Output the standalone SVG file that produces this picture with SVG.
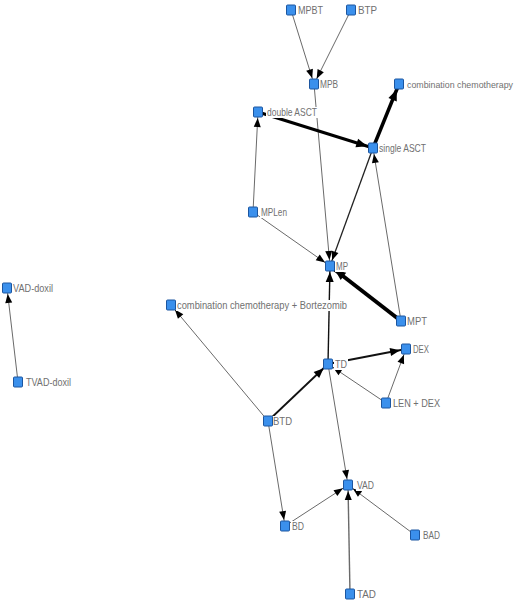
<svg xmlns="http://www.w3.org/2000/svg" width="520" height="604" viewBox="0 0 520 604">
<style>
.n rect{fill:#3b90ec;stroke:#1c56a0;stroke-width:1}
.n rect.bg{fill:#fff;stroke:none}
.n text{font-family:"Liberation Sans",Arial,sans-serif;font-size:10.5px;fill:#707070}
.e line{stroke:#6a6a6a;stroke-width:1;fill:none;marker-end:url(#a)}
.e line.m{stroke:#111;stroke-width:1.8;marker-end:url(#b)}
.e line.k{stroke:#000;stroke-width:3.5;marker-end:url(#c)}
</style>
<defs>
<marker id="a" markerUnits="userSpaceOnUse" markerWidth="10" markerHeight="8" refX="15" refY="3.5" orient="auto" overflow="visible"><path d="M0,0 L9,3.5 L0,7 z" fill="#000"/></marker>
<marker id="b" markerUnits="userSpaceOnUse" markerWidth="11" markerHeight="9" refX="16" refY="4" orient="auto" overflow="visible"><path d="M0,0 L10,4 L0,8 z" fill="#000"/></marker>
<marker id="c" markerUnits="userSpaceOnUse" markerWidth="12" markerHeight="10" refX="17" refY="4.5" orient="auto" overflow="visible"><path d="M0,0 L11,4.5 L0,9 z" fill="#000"/></marker>
</defs>
<rect width="520" height="604" fill="#fff"/>
<g id="edges" class="e">
<line x1="291" y1="10" x2="314" y2="84"/>
<line x1="351" y1="10" x2="314" y2="84"/>
<line x1="314" y1="84" x2="330" y2="266"/>
<line class="k" style="stroke-width:3" x1="258" y1="112" x2="373" y2="148"/>
<line class="k" x1="373" y1="148" x2="399" y2="84"/>
<line x1="253" y1="212" x2="258" y2="112"/>
<line x1="253" y1="212" x2="330" y2="266"/>
<line style="stroke:#222;stroke-width:1.3" x1="373" y1="148" x2="330" y2="266"/>
<line x1="401" y1="321" x2="373" y2="148"/>
<line class="k" style="stroke-width:4" x1="401" y1="321" x2="330" y2="266"/>
<line class="m" style="stroke-width:1.4" x1="328" y1="364" x2="330" y2="266"/>
<line class="m" x1="328" y1="364" x2="406" y2="349"/>
<line x1="386" y1="403" x2="406" y2="349"/>
<line x1="386" y1="403" x2="328" y2="364"/>
<line class="m" x1="268" y1="421" x2="328" y2="364"/>
<line x1="268" y1="421" x2="171" y2="305"/>
<line x1="268" y1="421" x2="285" y2="526"/>
<line x1="328" y1="364" x2="348" y2="485"/>
<line x1="285" y1="526" x2="348" y2="485"/>
<line x1="415" y1="535" x2="348" y2="485"/>
<line style="stroke-width:1.4" x1="350" y1="594" x2="348" y2="485"/>
<line x1="18" y1="382" x2="7" y2="288"/>
</g>
<g id="n-MPBT" class="n"><rect class="bg" x="297" y="5" width="27" height="11"/><rect x="286.5" y="5" width="9" height="10" rx="1"/><text x="298" y="14" textLength="25" lengthAdjust="spacingAndGlyphs">MPBT</text></g>
<g id="n-BTP" class="n"><rect class="bg" x="357" y="5" width="21" height="11"/><rect x="346.5" y="5" width="9" height="10" rx="1"/><text x="358" y="14" textLength="19" lengthAdjust="spacingAndGlyphs">BTP</text></g>
<g id="n-MPB" class="n"><rect class="bg" x="319" y="79" width="20" height="11"/><rect x="309.5" y="79" width="9" height="10" rx="1"/><text x="320" y="88" textLength="18" lengthAdjust="spacingAndGlyphs">MPB</text></g>
<g id="n-combination-chemotherapy" class="n"><rect class="bg" x="406" y="79" width="108" height="11"/><rect x="394.5" y="79" width="9" height="10" rx="1"/><text x="407" y="88" style="font-size:9.2px" textLength="106" lengthAdjust="spacingAndGlyphs">combination chemotherapy</text></g>
<g id="n-double-ASCT" class="n"><rect class="bg" x="266" y="107" width="52" height="11"/><rect x="253.5" y="107" width="9" height="10" rx="1"/><text x="267" y="116" textLength="50" lengthAdjust="spacingAndGlyphs">double ASCT</text></g>
<g id="n-single-ASCT" class="n"><rect class="bg" x="378" y="143" width="49" height="11"/><rect x="368.5" y="143" width="9" height="10" rx="1"/><text x="379" y="152" textLength="47" lengthAdjust="spacingAndGlyphs">single ASCT</text></g>
<g id="n-MPLen" class="n"><rect class="bg" x="260" y="207" width="28" height="11"/><rect x="248.5" y="207" width="9" height="10" rx="1"/><text x="261" y="216" textLength="26" lengthAdjust="spacingAndGlyphs">MPLen</text></g>
<g id="n-MP" class="n"><rect class="bg" x="335" y="261" width="14" height="11"/><rect x="325.5" y="261" width="9" height="10" rx="1"/><text x="336" y="270" textLength="12" lengthAdjust="spacingAndGlyphs">MP</text></g>
<g id="n-MPT" class="n"><rect class="bg" x="406" y="316" width="22" height="11"/><rect x="396.5" y="316" width="9" height="10" rx="1"/><text x="407" y="325" textLength="20" lengthAdjust="spacingAndGlyphs">MPT</text></g>
<g id="n-combination-chemotherapy-bortezomib" class="n"><rect class="bg" x="176" y="300" width="172" height="11"/><rect x="166.5" y="300" width="9" height="10" rx="1"/><text x="177" y="309" textLength="170" lengthAdjust="spacingAndGlyphs">combination chemotherapy + Bortezomib</text></g>
<g id="n-DEX" class="n"><rect class="bg" x="412" y="344" width="18" height="11"/><rect x="401.5" y="344" width="9" height="10" rx="1"/><text x="413" y="353" textLength="16" lengthAdjust="spacingAndGlyphs">DEX</text></g>
<g id="n-TD" class="n"><rect class="bg" x="334" y="359" width="14" height="11"/><rect x="323.5" y="359" width="9" height="10" rx="1"/><text x="335" y="368" textLength="12" lengthAdjust="spacingAndGlyphs">TD</text></g>
<g id="n-LEN-DEX" class="n"><rect class="bg" x="392" y="398" width="49" height="11"/><rect x="381.5" y="398" width="9" height="10" rx="1"/><text x="393" y="407" textLength="47" lengthAdjust="spacingAndGlyphs">LEN + DEX</text></g>
<g id="n-BTD" class="n"><rect class="bg" x="272" y="416" width="21" height="11"/><rect x="263.5" y="416" width="9" height="10" rx="1"/><text x="273" y="425" textLength="19" lengthAdjust="spacingAndGlyphs">BTD</text></g>
<g id="n-VAD" class="n"><rect class="bg" x="356" y="480" width="19" height="11"/><rect x="343.5" y="480" width="9" height="10" rx="1"/><text x="357" y="489" textLength="17" lengthAdjust="spacingAndGlyphs">VAD</text></g>
<g id="n-BD" class="n"><rect class="bg" x="291" y="521" width="14" height="11"/><rect x="280.5" y="521" width="9" height="10" rx="1"/><text x="292" y="530" textLength="12" lengthAdjust="spacingAndGlyphs">BD</text></g>
<g id="n-BAD" class="n"><rect class="bg" x="422" y="530" width="19" height="11"/><rect x="410.5" y="530" width="9" height="10" rx="1"/><text x="423" y="539" textLength="17" lengthAdjust="spacingAndGlyphs">BAD</text></g>
<g id="n-TAD" class="n"><rect class="bg" x="356" y="589" width="21" height="11"/><rect x="345.5" y="589" width="9" height="10" rx="1"/><text x="357" y="598" textLength="19" lengthAdjust="spacingAndGlyphs">TAD</text></g>
<g id="n-VAD-doxil" class="n"><rect class="bg" x="12" y="283" width="42" height="11"/><rect x="2.5" y="283" width="9" height="10" rx="1"/><text x="13" y="292" textLength="40" lengthAdjust="spacingAndGlyphs">VAD-doxil</text></g>
<g id="n-TVAD-doxil" class="n"><rect class="bg" x="25" y="377" width="47" height="11"/><rect x="13.5" y="377" width="9" height="10" rx="1"/><text x="26" y="386" textLength="45" lengthAdjust="spacingAndGlyphs">TVAD-doxil</text></g>
</svg>
